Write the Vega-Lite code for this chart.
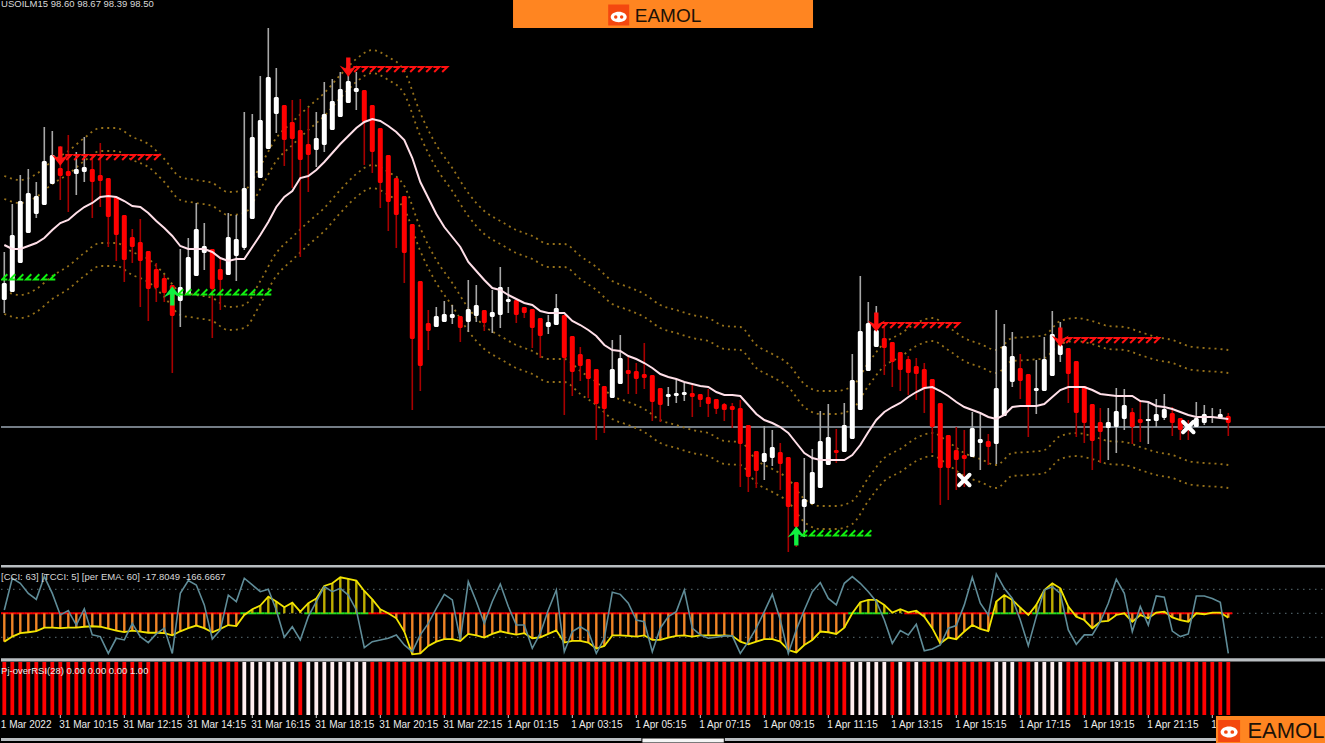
{"$schema":"https://vega.github.io/schema/vega-lite/v6.json","padding":0,"background":"#000000","spacing":0,"bounds":"flush","config":{"view":{"stroke":null},"axis":{"disable":true},"legend":{"disable":true},"concat":{"spacing":0}},
"datasets":{
"candles":[
{"i":0,"o":99.73,"h":100.21,"l":99.60,"c":99.90,"m":100.28},{"i":1,"o":99.81,"h":100.69,"l":99.81,"c":100.38,"m":100.24},{"i":2,"o":100.10,"h":100.98,"l":100.10,"c":100.72,"m":100.24},{"i":3,"o":100.40,"h":101.04,"l":100.40,"c":100.80,"m":100.27},{"i":4,"o":100.59,"h":100.91,"l":100.55,"c":100.77,"m":100.30},{"i":5,"o":100.68,"h":101.46,"l":100.68,"c":101.12,"m":100.35},{"i":6,"o":100.89,"h":101.42,"l":100.89,"c":101.18,"m":100.43},{"i":7,"o":101.05,"h":101.27,"l":100.73,"c":100.97,"m":100.50},{"i":8,"o":101.02,"h":101.38,"l":100.61,"c":100.97,"m":100.53},{"i":9,"o":100.99,"h":101.21,"l":100.78,"c":101.04,"m":100.60},
{"i":10,"o":101.01,"h":101.36,"l":100.91,"c":101.06,"m":100.66},{"i":11,"o":101.04,"h":101.18,"l":100.55,"c":100.91,"m":100.70},{"i":12,"o":100.98,"h":101.30,"l":100.66,"c":100.92,"m":100.76},{"i":13,"o":100.95,"h":100.95,"l":100.26,"c":100.56,"m":100.77},{"i":14,"o":100.76,"h":100.76,"l":100.12,"c":100.38,"m":100.76},{"i":15,"o":100.58,"h":100.58,"l":99.91,"c":100.13,"m":100.72},{"i":16,"o":100.36,"h":100.44,"l":100.10,"c":100.26,"m":100.67},{"i":17,"o":100.31,"h":100.54,"l":99.66,"c":100.12,"m":100.66},{"i":18,"o":100.22,"h":100.22,"l":99.52,"c":99.84,"m":100.60},{"i":19,"o":100.04,"h":100.10,"l":99.71,"c":99.85,"m":100.52},
{"i":20,"o":99.95,"h":99.98,"l":99.71,"c":99.80,"m":100.45},{"i":21,"o":99.88,"h":99.88,"l":99.00,"c":99.57,"m":100.37},{"i":22,"o":99.72,"h":100.24,"l":99.46,"c":99.86,"m":100.27},{"i":23,"o":99.78,"h":100.35,"l":99.78,"c":100.16,"m":100.24},{"i":24,"o":99.97,"h":100.70,"l":99.97,"c":100.44,"m":100.24},{"i":25,"o":100.20,"h":100.50,"l":100.03,"c":100.27,"m":100.24},{"i":26,"o":100.24,"h":100.24,"l":99.35,"c":99.84,"m":100.21},{"i":27,"o":100.04,"h":100.16,"l":99.63,"c":99.93,"m":100.15},{"i":28,"o":99.98,"h":100.60,"l":99.98,"c":100.36,"m":100.12},{"i":29,"o":100.17,"h":100.58,"l":99.92,"c":100.34,"m":100.14},
{"i":30,"o":100.25,"h":101.61,"l":100.23,"c":100.85,"m":100.14},{"i":31,"o":100.54,"h":101.59,"l":100.54,"c":101.36,"m":100.26},{"i":32,"o":100.95,"h":101.97,"l":100.95,"c":101.53,"m":100.38},{"i":33,"o":101.24,"h":102.45,"l":101.24,"c":101.96,"m":100.51},{"i":34,"o":101.59,"h":102.05,"l":101.40,"c":101.76,"m":100.66},{"i":35,"o":101.68,"h":101.68,"l":101.07,"c":101.33,"m":100.76},{"i":36,"o":101.51,"h":101.73,"l":100.85,"c":101.34,"m":100.82},{"i":37,"o":101.43,"h":101.74,"l":100.16,"c":101.13,"m":100.95},{"i":38,"o":101.29,"h":101.65,"l":100.81,"c":101.18,"m":100.97},{"i":39,"o":101.23,"h":101.61,"l":101.06,"c":101.35,"m":101.03},
{"i":40,"o":101.28,"h":101.91,"l":101.21,"c":101.59,"m":101.11},{"i":41,"o":101.43,"h":101.94,"l":101.43,"c":101.72,"m":101.20},{"i":42,"o":101.56,"h":102.01,"l":101.56,"c":101.84,"m":101.29},{"i":43,"o":101.70,"h":102.06,"l":101.70,"c":101.92,"m":101.37},{"i":44,"o":101.81,"h":102.01,"l":101.63,"c":101.85,"m":101.45},{"i":45,"o":101.83,"h":101.83,"l":101.08,"c":101.51,"m":101.51},{"i":46,"o":101.68,"h":101.68,"l":101.00,"c":101.21,"m":101.54},{"i":47,"o":101.45,"h":101.45,"l":100.65,"c":100.90,"m":101.52},{"i":48,"o":101.18,"h":101.18,"l":100.42,"c":100.71,"m":101.47},{"i":49,"o":100.95,"h":100.95,"l":100.25,"c":100.58,"m":101.41},
{"i":50,"o":100.77,"h":100.77,"l":99.90,"c":100.20,"m":101.33},{"i":51,"o":100.49,"h":100.49,"l":98.63,"c":99.34,"m":101.15},{"i":52,"o":99.92,"h":99.92,"l":98.82,"c":99.07,"m":100.91},{"i":53,"o":99.50,"h":99.63,"l":99.23,"c":99.42,"m":100.75},{"i":54,"o":99.46,"h":99.66,"l":99.46,"c":99.57,"m":100.59},{"i":55,"o":99.51,"h":99.72,"l":99.51,"c":99.59,"m":100.46},{"i":56,"o":99.55,"h":99.68,"l":99.49,"c":99.59,"m":100.36},{"i":57,"o":99.57,"h":99.57,"l":99.31,"c":99.45,"m":100.26},{"i":58,"o":99.51,"h":99.93,"l":99.41,"c":99.64,"m":100.11},{"i":59,"o":99.57,"h":99.88,"l":99.51,"c":99.68,"m":100.02},
{"i":60,"o":99.63,"h":99.63,"l":99.42,"c":99.50,"m":99.93},{"i":61,"o":99.56,"h":99.83,"l":99.40,"c":99.61,"m":99.85},{"i":62,"o":99.58,"h":100.06,"l":99.45,"c":99.86,"m":99.83},{"i":63,"o":99.71,"h":99.86,"l":99.60,"c":99.74,"m":99.78},{"i":64,"o":99.73,"h":99.73,"l":99.50,"c":99.58,"m":99.74},{"i":65,"o":99.66,"h":99.66,"l":99.55,"c":99.60,"m":99.70},{"i":66,"o":99.64,"h":99.64,"l":99.25,"c":99.45,"m":99.68},{"i":67,"o":99.55,"h":99.55,"l":99.15,"c":99.37,"m":99.62},{"i":68,"o":99.46,"h":99.58,"l":99.39,"c":99.51,"m":99.60},{"i":69,"o":99.48,"h":99.79,"l":99.48,"c":99.65,"m":99.60},
{"i":70,"o":99.58,"h":99.58,"l":98.58,"c":99.15,"m":99.60},{"i":71,"o":99.37,"h":99.37,"l":98.77,"c":99.01,"m":99.52},{"i":72,"o":99.19,"h":99.26,"l":98.92,"c":99.07,"m":99.48},{"i":73,"o":99.14,"h":99.14,"l":98.75,"c":98.94,"m":99.43},{"i":74,"o":99.04,"h":99.04,"l":98.33,"c":98.69,"m":99.37},{"i":75,"o":98.87,"h":98.87,"l":98.40,"c":98.64,"m":99.28},{"i":76,"o":98.75,"h":99.33,"l":98.75,"c":99.04,"m":99.23},{"i":77,"o":98.89,"h":99.38,"l":98.89,"c":99.15,"m":99.22},{"i":78,"o":99.03,"h":99.16,"l":98.79,"c":98.99,"m":99.17},{"i":79,"o":99.02,"h":99.10,"l":98.79,"c":98.94,"m":99.14},
{"i":80,"o":98.99,"h":99.30,"l":98.84,"c":98.95,"m":99.10},{"i":81,"o":98.98,"h":98.98,"l":98.52,"c":98.71,"m":99.05},{"i":82,"o":98.85,"h":98.85,"l":98.51,"c":98.68,"m":98.99},{"i":83,"o":98.76,"h":98.86,"l":98.67,"c":98.79,"m":98.96},{"i":84,"o":98.77,"h":98.93,"l":98.70,"c":98.80,"m":98.94},{"i":85,"o":98.78,"h":98.90,"l":98.72,"c":98.81,"m":98.91},{"i":86,"o":98.80,"h":98.90,"l":98.56,"c":98.76,"m":98.89},{"i":87,"o":98.79,"h":98.79,"l":98.66,"c":98.73,"m":98.87},{"i":88,"o":98.76,"h":98.84,"l":98.56,"c":98.69,"m":98.86},{"i":89,"o":98.74,"h":98.74,"l":98.59,"c":98.64,"m":98.81},
{"i":90,"o":98.69,"h":98.70,"l":98.52,"c":98.63,"m":98.78},{"i":91,"o":98.67,"h":98.70,"l":98.45,"c":98.63,"m":98.78},{"i":92,"o":98.65,"h":98.73,"l":97.86,"c":98.29,"m":98.77},{"i":93,"o":98.48,"h":98.48,"l":97.81,"c":97.96,"m":98.68},{"i":94,"o":98.22,"h":98.22,"l":97.85,"c":98.02,"m":98.59},{"i":95,"o":98.11,"h":98.47,"l":97.93,"c":98.20,"m":98.53},{"i":96,"o":98.15,"h":98.43,"l":98.07,"c":98.26,"m":98.50},{"i":97,"o":98.21,"h":98.30,"l":97.83,"c":98.09,"m":98.46},{"i":98,"o":98.16,"h":98.16,"l":97.21,"c":97.66,"m":98.40},{"i":99,"o":97.91,"h":97.91,"l":97.26,"c":97.46,"m":98.30},
{"i":100,"o":97.66,"h":98.15,"l":97.36,"c":97.74,"m":98.20},{"i":101,"o":97.69,"h":98.24,"l":97.69,"c":98.01,"m":98.15},{"i":102,"o":97.85,"h":98.62,"l":97.85,"c":98.32,"m":98.13},{"i":103,"o":98.08,"h":98.69,"l":98.08,"c":98.36,"m":98.13},{"i":104,"o":98.23,"h":98.44,"l":98.10,"c":98.20,"m":98.13},{"i":105,"o":98.21,"h":98.70,"l":98.21,"c":98.48,"m":98.13},{"i":106,"o":98.34,"h":99.19,"l":98.34,"c":98.93,"m":98.18},{"i":107,"o":98.63,"h":99.97,"l":98.63,"c":99.42,"m":98.28},{"i":108,"o":99.02,"h":99.71,"l":99.02,"c":99.50,"m":98.41},{"i":109,"o":99.26,"h":99.67,"l":99.26,"c":99.43,"m":98.53},
{"i":110,"o":99.35,"h":99.46,"l":98.98,"c":99.25,"m":98.61},{"i":111,"o":99.31,"h":99.31,"l":98.86,"c":99.11,"m":98.66},{"i":112,"o":99.21,"h":99.21,"l":98.82,"c":99.03,"m":98.70},{"i":113,"o":99.14,"h":99.17,"l":98.78,"c":99.00,"m":98.76},{"i":114,"o":99.07,"h":99.15,"l":98.73,"c":98.99,"m":98.81},{"i":115,"o":99.04,"h":99.10,"l":98.60,"c":98.84,"m":98.85},{"i":116,"o":98.94,"h":98.94,"l":98.20,"c":98.46,"m":98.86},{"i":117,"o":98.70,"h":98.70,"l":97.68,"c":98.05,"m":98.82},{"i":118,"o":98.38,"h":98.38,"l":97.73,"c":98.05,"m":98.77},{"i":119,"o":98.23,"h":98.46,"l":97.83,"c":98.13,"m":98.71},
{"i":120,"o":98.18,"h":98.43,"l":97.86,"c":98.14,"m":98.66},{"i":121,"o":98.16,"h":98.61,"l":98.16,"c":98.45,"m":98.63},{"i":122,"o":98.30,"h":98.59,"l":98.03,"c":98.34,"m":98.60},{"i":123,"o":98.32,"h":98.39,"l":98.08,"c":98.26,"m":98.56},{"i":124,"o":98.29,"h":99.63,"l":98.09,"c":98.85,"m":98.54},{"i":125,"o":98.57,"h":99.49,"l":98.57,"c":99.27,"m":98.58},{"i":126,"o":98.91,"h":99.41,"l":98.86,"c":99.17,"m":98.66},{"i":127,"o":99.05,"h":99.19,"l":98.74,"c":98.92,"m":98.67},{"i":128,"o":98.99,"h":98.99,"l":98.36,"c":98.66,"m":98.67},{"i":129,"o":98.82,"h":99.13,"l":98.59,"c":98.85,"m":98.67},
{"i":130,"o":98.82,"h":99.36,"l":98.82,"c":99.14,"m":98.69},{"i":131,"o":98.97,"h":99.62,"l":98.97,"c":99.39,"m":98.76},{"i":132,"o":99.18,"h":99.51,"l":99.11,"c":99.28,"m":98.83},{"i":133,"o":99.25,"h":99.25,"l":98.70,"c":98.99,"m":98.86},{"i":134,"o":99.12,"h":99.12,"l":98.36,"c":98.60,"m":98.86},{"i":135,"o":98.87,"h":98.87,"l":98.30,"c":98.50,"m":98.86},{"i":136,"o":98.69,"h":98.69,"l":98.03,"c":98.32,"m":98.83},{"i":137,"o":98.51,"h":98.65,"l":98.10,"c":98.41,"m":98.79},{"i":138,"o":98.45,"h":98.65,"l":98.13,"c":98.51,"m":98.78},{"i":139,"o":98.46,"h":98.85,"l":98.20,"c":98.62,"m":98.77},
{"i":140,"o":98.54,"h":98.84,"l":98.43,"c":98.68,"m":98.77},{"i":141,"o":98.61,"h":98.65,"l":98.29,"c":98.46,"m":98.77},{"i":142,"o":98.54,"h":98.73,"l":98.31,"c":98.50,"m":98.72},{"i":143,"o":98.52,"h":98.70,"l":98.29,"c":98.54,"m":98.71},{"i":144,"o":98.52,"h":98.74,"l":98.46,"c":98.59,"m":98.67},{"i":145,"o":98.55,"h":98.79,"l":98.53,"c":98.64,"m":98.66},{"i":146,"o":98.60,"h":98.66,"l":98.37,"c":98.50,"m":98.64},{"i":147,"o":98.55,"h":98.55,"l":98.33,"c":98.43,"m":98.61},{"i":148,"o":98.48,"h":98.53,"l":98.33,"c":98.43,"m":98.58},{"i":149,"o":98.46,"h":98.71,"l":98.46,"c":98.55,"m":98.56},
{"i":150,"o":98.50,"h":98.68,"l":98.48,"c":98.59,"m":98.56},{"i":151,"o":98.55,"h":98.65,"l":98.50,"c":98.56,"m":98.56},{"i":152,"o":98.55,"h":98.64,"l":98.54,"c":98.59,"m":98.55},{"i":153,"o":98.57,"h":98.60,"l":98.37,"c":98.50,"m":98.54}
],
"bands":[
{"i":0,"u2":100.97,"u1":100.74,"l1":99.82,"l2":99.59},{"i":2,"u2":100.93,"u1":100.70,"l1":99.78,"l2":99.55},{"i":4,"u2":100.99,"u1":100.76,"l1":99.84,"l2":99.61},{"i":6,"u2":101.12,"u1":100.89,"l1":99.97,"l2":99.74},{"i":8,"u2":101.22,"u1":100.99,"l1":100.07,"l2":99.84},{"i":10,"u2":101.35,"u1":101.12,"l1":100.20,"l2":99.97},{"i":12,"u2":101.45,"u1":101.22,"l1":100.30,"l2":100.07},{"i":14,"u2":101.45,"u1":101.22,"l1":100.30,"l2":100.07},{"i":16,"u2":101.36,"u1":101.13,"l1":100.21,"l2":99.98},{"i":18,"u2":101.29,"u1":101.06,"l1":100.14,"l2":99.91},{"i":20,"u2":101.14,"u1":100.91,"l1":99.99,"l2":99.76},{"i":22,"u2":100.96,"u1":100.73,"l1":99.81,"l2":99.58},{"i":24,"u2":100.93,"u1":100.70,"l1":99.78,"l2":99.55},{"i":26,"u2":100.90,"u1":100.67,"l1":99.75,"l2":99.52},{"i":28,"u2":100.81,"u1":100.58,"l1":99.66,"l2":99.43},{"i":30,"u2":100.83,"u1":100.60,"l1":99.68,"l2":99.45},{"i":32,"u2":101.07,"u1":100.84,"l1":99.92,"l2":99.69},{"i":34,"u2":101.35,"u1":101.12,"l1":100.20,"l2":99.97},{"i":36,"u2":101.51,"u1":101.28,"l1":100.36,"l2":100.13},{"i":38,"u2":101.66,"u1":101.43,"l1":100.51,"l2":100.28},{"i":40,"u2":101.80,"u1":101.57,"l1":100.65,"l2":100.42},{"i":42,"u2":101.98,"u1":101.75,"l1":100.83,"l2":100.60},{"i":44,"u2":102.14,"u1":101.91,"l1":100.99,"l2":100.76},{"i":46,"u2":102.23,"u1":102.00,"l1":101.08,"l2":100.85},{"i":48,"u2":102.16,"u1":101.93,"l1":101.01,"l2":100.78},{"i":50,"u2":102.02,"u1":101.79,"l1":100.87,"l2":100.64},{"i":52,"u2":101.60,"u1":101.37,"l1":100.45,"l2":100.22},{"i":54,"u2":101.28,"u1":101.05,"l1":100.13,"l2":99.90},{"i":56,"u2":101.05,"u1":100.82,"l1":99.90,"l2":99.67},{"i":58,"u2":100.80,"u1":100.57,"l1":99.65,"l2":99.42},{"i":60,"u2":100.62,"u1":100.39,"l1":99.47,"l2":99.24},{"i":62,"u2":100.52,"u1":100.29,"l1":99.37,"l2":99.14},{"i":64,"u2":100.43,"u1":100.20,"l1":99.28,"l2":99.05},{"i":66,"u2":100.37,"u1":100.14,"l1":99.22,"l2":98.99},{"i":68,"u2":100.29,"u1":100.06,"l1":99.14,"l2":98.91},{"i":70,"u2":100.29,"u1":100.06,"l1":99.14,"l2":98.91},{"i":72,"u2":100.17,"u1":99.94,"l1":99.02,"l2":98.79},{"i":74,"u2":100.06,"u1":99.83,"l1":98.91,"l2":98.68},{"i":76,"u2":99.92,"u1":99.69,"l1":98.77,"l2":98.54},{"i":78,"u2":99.86,"u1":99.63,"l1":98.71,"l2":98.48},{"i":80,"u2":99.79,"u1":99.56,"l1":98.64,"l2":98.41},{"i":82,"u2":99.68,"u1":99.45,"l1":98.53,"l2":98.30},{"i":84,"u2":99.63,"u1":99.40,"l1":98.48,"l2":98.25},{"i":86,"u2":99.58,"u1":99.35,"l1":98.43,"l2":98.20},{"i":88,"u2":99.55,"u1":99.32,"l1":98.40,"l2":98.17},{"i":90,"u2":99.47,"u1":99.24,"l1":98.32,"l2":98.09},{"i":92,"u2":99.46,"u1":99.23,"l1":98.31,"l2":98.08},{"i":94,"u2":99.28,"u1":99.05,"l1":98.13,"l2":97.90},{"i":96,"u2":99.19,"u1":98.96,"l1":98.04,"l2":97.81},{"i":98,"u2":99.09,"u1":98.86,"l1":97.94,"l2":97.71},{"i":100,"u2":98.89,"u1":98.66,"l1":97.74,"l2":97.51},{"i":102,"u2":98.82,"u1":98.59,"l1":97.67,"l2":97.44},{"i":104,"u2":98.82,"u1":98.59,"l1":97.67,"l2":97.44},{"i":106,"u2":98.87,"u1":98.64,"l1":97.72,"l2":97.49},{"i":108,"u2":99.10,"u1":98.87,"l1":97.95,"l2":97.72},{"i":110,"u2":99.30,"u1":99.07,"l1":98.15,"l2":97.92},{"i":112,"u2":99.39,"u1":99.16,"l1":98.24,"l2":98.01},{"i":114,"u2":99.50,"u1":99.27,"l1":98.35,"l2":98.12},{"i":116,"u2":99.55,"u1":99.32,"l1":98.40,"l2":98.17},{"i":118,"u2":99.46,"u1":99.23,"l1":98.31,"l2":98.08},{"i":120,"u2":99.35,"u1":99.12,"l1":98.20,"l2":97.97},{"i":122,"u2":99.29,"u1":99.06,"l1":98.14,"l2":97.91},{"i":124,"u2":99.23,"u1":99.00,"l1":98.08,"l2":97.85},{"i":126,"u2":99.35,"u1":99.12,"l1":98.20,"l2":97.97},{"i":128,"u2":99.36,"u1":99.13,"l1":98.21,"l2":97.98},{"i":130,"u2":99.38,"u1":99.15,"l1":98.23,"l2":98.00},{"i":132,"u2":99.52,"u1":99.29,"l1":98.37,"l2":98.14},{"i":134,"u2":99.55,"u1":99.32,"l1":98.40,"l2":98.17},{"i":136,"u2":99.52,"u1":99.29,"l1":98.37,"l2":98.14},{"i":138,"u2":99.47,"u1":99.24,"l1":98.32,"l2":98.09},{"i":140,"u2":99.46,"u1":99.23,"l1":98.31,"l2":98.08},{"i":142,"u2":99.41,"u1":99.18,"l1":98.26,"l2":98.03},{"i":144,"u2":99.36,"u1":99.13,"l1":98.21,"l2":97.98},{"i":146,"u2":99.33,"u1":99.10,"l1":98.18,"l2":97.95},{"i":148,"u2":99.27,"u1":99.04,"l1":98.12,"l2":97.89},{"i":150,"u2":99.25,"u1":99.02,"l1":98.10,"l2":97.87},{"i":152,"u2":99.24,"u1":99.01,"l1":98.09,"l2":97.86},{"i":153,"u2":99.23,"u1":99.00,"l1":98.08,"l2":97.85}
],
"sell":[{"i":8,"p":101.16},{"i":9,"p":101.16},{"i":10,"p":101.16},{"i":11,"p":101.16},{"i":12,"p":101.16},{"i":13,"p":101.16},{"i":14,"p":101.16},{"i":15,"p":101.16},{"i":16,"p":101.16},{"i":17,"p":101.16},{"i":18,"p":101.16},{"i":19,"p":101.16},{"i":44,"p":102.04},{"i":45,"p":102.04},{"i":46,"p":102.04},{"i":47,"p":102.04},{"i":48,"p":102.04},{"i":49,"p":102.04},{"i":50,"p":102.04},{"i":51,"p":102.04},{"i":52,"p":102.04},{"i":53,"p":102.04},{"i":54,"p":102.04},{"i":55,"p":102.04},{"i":110,"p":99.48},{"i":111,"p":99.48},{"i":112,"p":99.48},{"i":113,"p":99.48},{"i":114,"p":99.48},{"i":115,"p":99.48},{"i":116,"p":99.48},{"i":117,"p":99.48},{"i":118,"p":99.48},{"i":119,"p":99.48},{"i":133,"p":99.33},{"i":134,"p":99.33},{"i":135,"p":99.33},{"i":136,"p":99.33},{"i":137,"p":99.33},{"i":138,"p":99.33},{"i":139,"p":99.33},{"i":140,"p":99.33},{"i":141,"p":99.33},{"i":142,"p":99.33},{"i":143,"p":99.33},{"i":144,"p":99.33}],
"buy":[{"i":0,"p":99.96},{"i":1,"p":99.96},{"i":2,"p":99.96},{"i":3,"p":99.96},{"i":4,"p":99.96},{"i":5,"p":99.96},{"i":6,"p":99.96},{"i":22,"p":99.81},{"i":23,"p":99.81},{"i":24,"p":99.81},{"i":25,"p":99.81},{"i":26,"p":99.81},{"i":27,"p":99.81},{"i":28,"p":99.81},{"i":29,"p":99.81},{"i":30,"p":99.81},{"i":31,"p":99.81},{"i":32,"p":99.81},{"i":33,"p":99.81},{"i":100,"p":97.40},{"i":101,"p":97.40},{"i":102,"p":97.40},{"i":103,"p":97.40},{"i":104,"p":97.40},{"i":105,"p":97.40},{"i":106,"p":97.40},{"i":107,"p":97.40},{"i":108,"p":97.40}],
"cci":[
{"i":0,"c":-118,"t":14,"s":1,"r":"r"},{"i":1,"c":-97,"t":146,"s":1,"r":"r"},{"i":2,"c":-83,"t":125,"s":1,"r":"r"},{"i":3,"c":-79,"t":83,"s":1,"r":"r"},{"i":4,"c":-74,"t":58,"s":1,"r":"r"},{"i":5,"c":-60,"t":153,"s":1,"r":"r"},{"i":6,"c":-60,"t":83,"s":1,"r":"r"},{"i":7,"c":-62,"t":-7,"s":1,"r":"r"},{"i":8,"c":-60,"t":11,"s":1,"r":"r"},{"i":9,"c":-60,"t":-49,"s":1,"r":"r"},
{"i":10,"c":-56,"t":18,"s":1,"r":"r"},{"i":11,"c":-54,"t":-90,"s":1,"r":"r"},{"i":12,"c":-56,"t":-97,"s":1,"r":"r"},{"i":13,"c":-64,"t":-167,"s":1,"r":"r"},{"i":14,"c":-72,"t":-104,"s":1,"r":"r"},{"i":15,"c":-78,"t":-111,"s":1,"r":"r"},{"i":16,"c":-72,"t":-42,"s":1,"r":"r"},{"i":17,"c":-76,"t":-97,"s":1,"r":"r"},{"i":18,"c":-81,"t":-122,"s":1,"r":"r"},{"i":19,"c":-81,"t":-86,"s":1,"r":"r"},
{"i":20,"c":-83,"t":-62,"s":1,"r":"r"},{"i":21,"c":-92,"t":-167,"s":1,"r":"r"},{"i":22,"c":-75,"t":83,"s":1,"r":"r"},{"i":23,"c":-62,"t":136,"s":1,"r":"r"},{"i":24,"c":-51,"t":118,"s":1,"r":"r"},{"i":25,"c":-62,"t":35,"s":1,"r":"r"},{"i":26,"c":-79,"t":-107,"s":1,"r":"r"},{"i":27,"c":-65,"t":-69,"s":1,"r":"r"},{"i":28,"c":-49,"t":76,"s":1,"r":"r"},{"i":29,"c":-53,"t":49,"s":1,"r":"r"},
{"i":30,"c":-7,"t":146,"s":2,"r":"w"},{"i":31,"c":17,"t":118,"s":2,"r":"w"},{"i":32,"c":32,"t":90,"s":2,"r":"w"},{"i":33,"c":69,"t":100,"s":2,"r":"w"},{"i":34,"c":49,"t":14,"s":2,"r":"w"},{"i":35,"c":25,"t":-100,"s":0,"r":"w"},{"i":36,"c":44,"t":-56,"s":0,"r":"w"},{"i":37,"c":7,"t":-111,"s":0,"r":"r"},{"i":38,"c":42,"t":-14,"s":2,"r":"w"},{"i":39,"c":62,"t":49,"s":2,"r":"w"},
{"i":40,"c":114,"t":111,"s":2,"r":"w"},{"i":41,"c":125,"t":90,"s":2,"r":"w"},{"i":42,"c":150,"t":104,"s":2,"r":"w"},{"i":43,"c":143,"t":76,"s":2,"r":"w"},{"i":44,"c":136,"t":14,"s":2,"r":"w"},{"i":45,"c":93,"t":-143,"s":2,"r":"w"},{"i":46,"c":58,"t":-118,"s":1,"r":"r"},{"i":47,"c":17,"t":-111,"s":1,"r":"r"},{"i":48,"c":0,"t":-104,"s":1,"r":"r"},{"i":49,"c":-21,"t":-90,"s":1,"r":"r"},
{"i":50,"c":-76,"t":-132,"s":1,"r":"r"},{"i":51,"c":-171,"t":-160,"s":1,"r":"r"},{"i":52,"c":-167,"t":-90,"s":1,"r":"r"},{"i":53,"c":-136,"t":-42,"s":1,"r":"r"},{"i":54,"c":-118,"t":21,"s":1,"r":"r"},{"i":55,"c":-108,"t":79,"s":1,"r":"r"},{"i":56,"c":-108,"t":56,"s":1,"r":"r"},{"i":57,"c":-115,"t":-111,"s":1,"r":"r"},{"i":58,"c":-86,"t":132,"s":1,"r":"r"},{"i":59,"c":-92,"t":49,"s":1,"r":"r"},
{"i":60,"c":-101,"t":-42,"s":1,"r":"r"},{"i":61,"c":-86,"t":49,"s":1,"r":"r"},{"i":62,"c":-75,"t":122,"s":1,"r":"r"},{"i":63,"c":-83,"t":28,"s":1,"r":"r"},{"i":64,"c":-89,"t":-49,"s":1,"r":"r"},{"i":65,"c":-83,"t":-49,"s":1,"r":"r"},{"i":66,"c":-104,"t":-146,"s":1,"r":"r"},{"i":67,"c":-100,"t":-83,"s":1,"r":"r"},{"i":68,"c":-86,"t":14,"s":1,"r":"r"},{"i":69,"c":-71,"t":97,"s":1,"r":"r"},
{"i":70,"c":-122,"t":-160,"s":1,"r":"r"},{"i":71,"c":-115,"t":-76,"s":1,"r":"r"},{"i":72,"c":-115,"t":-56,"s":1,"r":"r"},{"i":73,"c":-122,"t":-76,"s":1,"r":"r"},{"i":74,"c":-147,"t":-167,"s":1,"r":"r"},{"i":75,"c":-136,"t":-104,"s":1,"r":"r"},{"i":76,"c":-92,"t":88,"s":1,"r":"r"},{"i":77,"c":-92,"t":79,"s":1,"r":"r"},{"i":78,"c":-94,"t":42,"s":1,"r":"r"},{"i":79,"c":-97,"t":-28,"s":1,"r":"r"},
{"i":80,"c":-92,"t":-35,"s":1,"r":"r"},{"i":81,"c":-111,"t":-160,"s":1,"r":"r"},{"i":82,"c":-111,"t":-62,"s":1,"r":"r"},{"i":83,"c":-101,"t":-14,"s":1,"r":"r"},{"i":84,"c":-94,"t":7,"s":1,"r":"r"},{"i":85,"c":-92,"t":97,"s":1,"r":"r"},{"i":86,"c":-97,"t":-62,"s":1,"r":"r"},{"i":87,"c":-92,"t":-90,"s":1,"r":"r"},{"i":88,"c":-92,"t":-104,"s":1,"r":"r"},{"i":89,"c":-92,"t":-100,"s":1,"r":"r"},
{"i":90,"c":-92,"t":-94,"s":1,"r":"r"},{"i":91,"c":-94,"t":-94,"s":1,"r":"r"},{"i":92,"c":-118,"t":-167,"s":1,"r":"r"},{"i":93,"c":-129,"t":-118,"s":1,"r":"r"},{"i":94,"c":-118,"t":-62,"s":1,"r":"r"},{"i":95,"c":-108,"t":7,"s":1,"r":"r"},{"i":96,"c":-108,"t":79,"s":1,"r":"r"},{"i":97,"c":-118,"t":-28,"s":1,"r":"r"},{"i":98,"c":-153,"t":-167,"s":1,"r":"r"},{"i":99,"c":-163,"t":-69,"s":1,"r":"r"},
{"i":100,"c":-132,"t":14,"s":1,"r":"r"},{"i":101,"c":-111,"t":90,"s":1,"r":"r"},{"i":102,"c":-76,"t":128,"s":1,"r":"r"},{"i":103,"c":-79,"t":62,"s":1,"r":"r"},{"i":104,"c":-86,"t":35,"s":1,"r":"r"},{"i":105,"c":-60,"t":125,"s":1,"r":"r"},{"i":106,"c":0,"t":153,"s":2,"r":"w"},{"i":107,"c":46,"t":125,"s":2,"r":"w"},{"i":108,"c":56,"t":90,"s":2,"r":"w"},{"i":109,"c":56,"t":49,"s":2,"r":"w"},
{"i":110,"c":35,"t":-28,"s":2,"r":"w"},{"i":111,"c":3,"t":-125,"s":0,"r":"r"},{"i":112,"c":17,"t":-72,"s":0,"r":"w"},{"i":113,"c":4,"t":-90,"s":1,"r":"r"},{"i":114,"c":11,"t":-46,"s":1,"r":"w"},{"i":115,"c":-14,"t":-156,"s":1,"r":"r"},{"i":116,"c":-62,"t":-149,"s":1,"r":"r"},{"i":117,"c":-125,"t":-132,"s":1,"r":"r"},{"i":118,"c":-101,"t":-62,"s":1,"r":"r"},{"i":119,"c":-108,"t":-51,"s":1,"r":"r"},
{"i":120,"c":-76,"t":35,"s":1,"r":"r"},{"i":121,"c":-49,"t":150,"s":1,"r":"r"},{"i":122,"c":-65,"t":42,"s":1,"r":"r"},{"i":123,"c":-74,"t":-7,"s":1,"r":"r"},{"i":124,"c":49,"t":164,"s":2,"r":"w"},{"i":125,"c":76,"t":104,"s":2,"r":"w"},{"i":126,"c":56,"t":62,"s":2,"r":"w"},{"i":127,"c":24,"t":-28,"s":1,"r":"r"},{"i":128,"c":-7,"t":-135,"s":1,"r":"r"},{"i":129,"c":35,"t":-14,"s":2,"r":"w"},
{"i":130,"c":97,"t":97,"s":2,"r":"w"},{"i":131,"c":125,"t":111,"s":2,"r":"w"},{"i":132,"c":104,"t":83,"s":2,"r":"w"},{"i":133,"c":28,"t":-69,"s":1,"r":"r"},{"i":134,"c":-14,"t":-129,"s":1,"r":"r"},{"i":135,"c":-28,"t":-90,"s":1,"r":"r"},{"i":136,"c":-62,"t":-90,"s":1,"r":"r"},{"i":137,"c":-35,"t":-35,"s":1,"r":"r"},{"i":138,"c":-32,"t":42,"s":1,"r":"r"},{"i":139,"c":-7,"t":142,"s":1,"r":"w"},
{"i":140,"c":0,"t":83,"s":1,"r":"r"},{"i":141,"c":-35,"t":-76,"s":1,"r":"r"},{"i":142,"c":-7,"t":28,"s":1,"r":"r"},{"i":143,"c":-21,"t":-49,"s":1,"r":"r"},{"i":144,"c":3,"t":72,"s":1,"r":"r"},{"i":145,"c":7,"t":67,"s":1,"r":"r"},{"i":146,"c":-17,"t":-74,"s":1,"r":"r"},{"i":147,"c":-28,"t":-97,"s":1,"r":"r"},{"i":148,"c":-35,"t":-86,"s":1,"r":"r"},{"i":149,"c":0,"t":72,"s":1,"r":"r"},
{"i":150,"c":-4,"t":72,"s":1,"r":"r"},{"i":151,"c":3,"t":62,"s":1,"r":"r"},{"i":152,"c":3,"t":46,"s":1,"r":"r"},{"i":153,"c":-18,"t":-167,"s":1,"r":"r"}
],
"ticks":[{"i":-1,"t":"31 Mar 2022"},{"i":7,"t":"31 Mar 10:15"},{"i":15,"t":"31 Mar 12:15"},{"i":23,"t":"31 Mar 14:15"},{"i":31,"t":"31 Mar 16:15"},{"i":39,"t":"31 Mar 18:15"},{"i":47,"t":"31 Mar 20:15"},{"i":55,"t":"31 Mar 22:15"},{"i":63,"t":"1 Apr 01:15"},{"i":71,"t":"1 Apr 03:15"},{"i":79,"t":"1 Apr 05:15"},{"i":87,"t":"1 Apr 07:15"},{"i":95,"t":"1 Apr 09:15"},{"i":103,"t":"1 Apr 11:15"},{"i":111,"t":"1 Apr 13:15"},{"i":119,"t":"1 Apr 15:15"},{"i":127,"t":"1 Apr 17:15"},{"i":135,"t":"1 Apr 19:15"},{"i":143,"t":"1 Apr 21:15"},{"i":151,"t":"1 Apr 23:15"}]
},
"vconcat":[
{"width":1325,"height":565,"encoding":{"x":{"field":"i","type":"quantitative","scale":{"domain":[-0.4125,165.2125],"nice":false,"zero":false,"padding":0}}},"layer":[
{"data":{"values":[{"a":-0.4125,"b":165.2125,"v":98.46}]},"mark":{"type":"rule","color":"#9aa6b2","strokeWidth":1.6,"clip":true},"encoding":{"x":{"field":"a","type":"quantitative"},"x2":{"field":"b"},"y":{"field":"v","type":"quantitative","scale":{"domain":[97.08,102.73],"nice":false,"zero":false}}}},
{"data":{"name":"bands"},"mark":{"type":"line","color":"#96711a","strokeWidth":1.8,"strokeDash":[2,4],"interpolate":"monotone"},"encoding":{"y":{"field":"u2","type":"quantitative"}}},
{"data":{"name":"bands"},"mark":{"type":"line","color":"#96711a","strokeWidth":1.8,"strokeDash":[2,4],"interpolate":"monotone"},"encoding":{"y":{"field":"u1","type":"quantitative"}}},
{"data":{"name":"bands"},"mark":{"type":"line","color":"#96711a","strokeWidth":1.8,"strokeDash":[2,4],"interpolate":"monotone"},"encoding":{"y":{"field":"l1","type":"quantitative"}}},
{"data":{"name":"bands"},"mark":{"type":"line","color":"#96711a","strokeWidth":1.8,"strokeDash":[2,4],"interpolate":"monotone"},"encoding":{"y":{"field":"l2","type":"quantitative"}}},
{"data":{"name":"candles"},"mark":{"type":"rule","strokeWidth":1.6},"encoding":{"y":{"field":"h","type":"quantitative"},"y2":{"field":"l"},"color":{"condition":{"test":"datum.c>=datum.o","value":"#a8a8a8"},"value":"#a80000"}}},
{"data":{"name":"candles"},"mark":{"type":"bar","width":5,"cornerRadius":1.5},"encoding":{"y":{"field":"o","type":"quantitative"},"y2":{"field":"c"},"color":{"condition":{"test":"datum.c>=datum.o","value":"#ffffff"},"value":"#ff0000"}}},
{"data":{"name":"candles"},"mark":{"type":"line","color":"#ffdfe8","strokeWidth":2},"encoding":{"y":{"field":"m","type":"quantitative"}}},
{"data":{"name":"sell"},"mark":{"type":"point","shape":"M-1,-0.7 L1,-0.7 L-0.7,1","filled":false,"stroke":"#ff1010","strokeWidth":2,"size":36,"opacity":1,"clip":true},"encoding":{"y":{"field":"p","type":"quantitative"}}},
{"data":{"name":"buy"},"mark":{"type":"point","shape":"M1,-0.9 L-0.7,0.8 L1,0.8","filled":false,"stroke":"#10f010","strokeWidth":2,"size":36,"opacity":1,"clip":true},"encoding":{"y":{"field":"p","type":"quantitative"}}},
{"data":{"values":[{"i":7,"p":101.16},{"i":43,"p":102.05},{"i":109,"p":99.50},{"i":132,"p":99.35}]},"mark":{"type":"point","shape":"M-0.25,-1.2 L0.25,-1.2 L0.25,0.1 L1,-0.3 L0,1 L-1,-0.3 L-0.25,0.1 Z","filled":true,"color":"#ff1010","size":300,"opacity":1},"encoding":{"y":{"field":"p","type":"quantitative"}}},
{"data":{"values":[{"i":21,"p":99.78},{"i":99,"p":97.38}]},"mark":{"type":"point","shape":"M-0.25,1.2 L0.25,1.2 L0.25,-0.1 L1,0.3 L0,-1 L-1,0.3 L-0.25,-0.1 Z","filled":true,"color":"#10f040","size":300,"opacity":1},"encoding":{"y":{"field":"p","type":"quantitative"}}},
{"data":{"values":[{"i":120,"p":97.93},{"i":148,"p":98.46}]},"mark":{"type":"point","shape":"M-1,-1 L1,1 M-1,1 L1,-1","filled":false,"stroke":"#ffffff","strokeWidth":4,"strokeCap":"round","size":110,"opacity":1},"encoding":{"y":{"field":"p","type":"quantitative"}}},
{"data":{"values":[{"i":-0.4,"p":102.695,"t":"USOILM15   98.60 98.67 98.39 98.50"}]},"mark":{"type":"text","align":"left","baseline":"middle","font":"Liberation Sans","fontSize":9.5,"color":"#d8d8d8","clip":true},"encoding":{"y":{"field":"p","type":"quantitative"},"text":{"field":"t"}}},
{"data":{"values":[{"a":63.59,"b":101.09,"top":102.73,"bot":102.45}]},"mark":{"type":"rect","color":"#ff8521"},"encoding":{"x":{"field":"a","type":"quantitative"},"x2":{"field":"b"},"y":{"field":"top","type":"quantitative"},"y2":{"field":"bot"}}},
{"data":{"values":[{"i":76.8,"p":102.58}]},"mark":{"type":"point","shape":"square","filled":true,"color":"#f4470f","size":441,"opacity":1},"encoding":{"y":{"field":"p","type":"quantitative"}}},
{"data":{"values":[{"i":76.8,"p":102.56}]},"mark":{"type":"point","shape":"M-1,0 A1,0.65 0 1,1 1,0 A1,0.65 0 1,1 -1,0 Z","filled":true,"color":"#ffffff","size":256,"opacity":1},"encoding":{"y":{"field":"p","type":"quantitative"}}},
{"data":{"values":[{"i":76.43,"p":102.56},{"i":77.17,"p":102.56}]},"mark":{"type":"point","shape":"circle","filled":true,"color":"#f4470f","size":12,"opacity":1},"encoding":{"y":{"field":"p","type":"quantitative"}}},
{"data":{"values":[{"i":82.96,"p":102.575,"t":"EAMOL"}]},"mark":{"type":"text","font":"Liberation Sans","fontSize":19,"color":"#1c1208","baseline":"middle"},"encoding":{"y":{"field":"p","type":"quantitative"},"text":{"field":"t"}}}
]},
{"width":1325,"height":97,"encoding":{"x":{"field":"i","type":"quantitative","scale":{"domain":[-0.4125,165.2125],"nice":false,"zero":false,"padding":0}}},"layer":[
{"data":{"values":[{"a":-0.4125,"b":165.2125,"v":100},{"a":-0.4125,"b":165.2125,"v":0},{"a":-0.4125,"b":165.2125,"v":-100}]},"mark":{"type":"rule","color":"#5a6e76","strokeWidth":1,"strokeDash":[1.5,4.5],"clip":true},"encoding":{"x":{"field":"a","type":"quantitative"},"x2":{"field":"b"},"y":{"field":"v","type":"quantitative","scale":{"domain":[-202.9,201.25],"nice":false,"zero":false}}}},
{"data":{"values":[{"a":-0.4125,"b":165.2125,"v":197},{"a":-0.4125,"b":165.2125,"v":-194}]},"mark":{"type":"rule","color":"#b9bec2","strokeWidth":3.2,"clip":true},"encoding":{"x":{"field":"a","type":"quantitative"},"x2":{"field":"b"},"y":{"field":"v","type":"quantitative"}}},
{"data":{"name":"cci"},"transform":[{"filter":"datum.s==1"}],"mark":{"type":"tick","orient":"horizontal","color":"#ff0000","size":8,"thickness":2,"opacity":1,"clip":true},"encoding":{"y":{"datum":0,"type":"quantitative"}}},
{"data":{"name":"cci"},"transform":[{"filter":"datum.s==2"}],"mark":{"type":"tick","orient":"horizontal","color":"#20e020","size":8,"thickness":2,"opacity":1,"clip":true},"encoding":{"y":{"datum":0,"type":"quantitative"}}},
{"data":{"name":"cci"},"mark":{"type":"rule","strokeWidth":2.4},"encoding":{"y":{"field":"c","type":"quantitative"},"y2":{"datum":0},"color":{"condition":{"test":"datum.c<0","value":"#f08526"},"value":"#bfae00"}}},
{"data":{"name":"cci"},"mark":{"type":"line","color":"#f2e400","strokeWidth":1.8},"encoding":{"y":{"field":"c","type":"quantitative"}}},
{"data":{"name":"cci"},"mark":{"type":"line","color":"#5f8c98","strokeWidth":1.6},"encoding":{"y":{"field":"t","type":"quantitative"}}},
{"data":{"values":[{"i":-0.4,"v":152,"t":"[CCI: 63] [TCCI: 5] [per EMA: 60]  -17.8049 -166.6667"}]},"mark":{"type":"text","align":"left","baseline":"middle","font":"Liberation Sans","fontSize":9.5,"color":"#d8d8d8","clip":true},"encoding":{"y":{"field":"v","type":"quantitative"},"text":{"field":"t"}}}
]},
{"width":1325,"height":53,"encoding":{"x":{"field":"i","type":"quantitative","scale":{"domain":[-0.4125,165.2125],"nice":false,"zero":false,"padding":0}}},"layer":[
{"data":{"name":"cci"},"mark":{"type":"bar","width":3.8},"encoding":{"y":{"datum":1,"type":"quantitative","scale":{"domain":[0,1],"nice":false}},"y2":{"datum":0},"color":{"condition":{"test":"datum.r=='w'","value":"#ffeef0"},"value":"#ff0000"}}},
{"data":{"values":[{"i":-0.4,"v":0.83,"t":"Pj-overRSI(28) 0.00 0.00 0.00 1.00"}]},"mark":{"type":"text","align":"left","baseline":"middle","font":"Liberation Sans","fontSize":9.5,"color":"#e8e8e8","clip":true},"encoding":{"y":{"field":"v","type":"quantitative"},"text":{"field":"t"}}}
]},
{"width":1325,"height":28,"encoding":{"x":{"field":"i","type":"quantitative","scale":{"domain":[-0.4125,165.2125],"nice":false,"zero":false,"padding":0}}},"layer":[
{"data":{"values":[{"a":-0.4125,"b":165.2125,"v":3.5}]},"mark":{"type":"rule","color":"#b9bec2","strokeWidth":3,"clip":true},"encoding":{"x":{"field":"a","type":"quantitative"},"x2":{"field":"b"},"y":{"field":"v","type":"quantitative","scale":{"domain":[0,28],"nice":false,"zero":false}}}},
{"data":{"values":[{"a":79.7,"b":90,"top":5,"bot":0}]},"mark":{"type":"rect","color":"#f4f4f4","stroke":"#000000","strokeWidth":1,"clip":true},"encoding":{"x":{"field":"a","type":"quantitative"},"x2":{"field":"b"},"y":{"field":"top","type":"quantitative"},"y2":{"field":"bot"}}},
{"data":{"name":"ticks"},"mark":{"type":"tick","orient":"vertical","color":"#d0d0d0","size":3,"thickness":1,"opacity":1,"clip":true},"encoding":{"y":{"datum":26.5,"type":"quantitative"}}},
{"data":{"name":"ticks"},"mark":{"type":"text","align":"left","baseline":"middle","dx":-1,"font":"Liberation Sans","fontSize":10,"color":"#ececec","clip":true},"encoding":{"y":{"datum":18,"type":"quantitative"},"text":{"field":"t"}}},
{"data":{"values":[{"a":151.46,"b":165.2125,"top":27,"bot":0}]},"mark":{"type":"rect","color":"#ff8521"},"encoding":{"x":{"field":"a","type":"quantitative"},"x2":{"field":"b"},"y":{"field":"top","type":"quantitative"},"y2":{"field":"bot"}}},
{"data":{"values":[{"i":153.1,"v":12}]},"mark":{"type":"point","shape":"square","filled":true,"color":"#f4470f","size":484,"opacity":1},"encoding":{"y":{"field":"v","type":"quantitative"}}},
{"data":{"values":[{"i":153.1,"v":11}]},"mark":{"type":"point","shape":"M-1,0 A1,0.65 0 1,1 1,0 A1,0.65 0 1,1 -1,0 Z","filled":true,"color":"#ffffff","size":289,"opacity":1},"encoding":{"y":{"field":"v","type":"quantitative"}}},
{"data":{"values":[{"i":152.7,"v":11},{"i":153.5,"v":11}]},"mark":{"type":"point","shape":"circle","filled":true,"color":"#f4470f","size":14,"opacity":1},"encoding":{"y":{"field":"v","type":"quantitative"}}},
{"data":{"values":[{"i":160.2,"v":12,"t":"EAMOL"}]},"mark":{"type":"text","font":"Liberation Sans","fontSize":22,"color":"#1c1208","baseline":"middle","clip":true},"encoding":{"y":{"field":"v","type":"quantitative"},"text":{"field":"t"}}}
]}
]}
